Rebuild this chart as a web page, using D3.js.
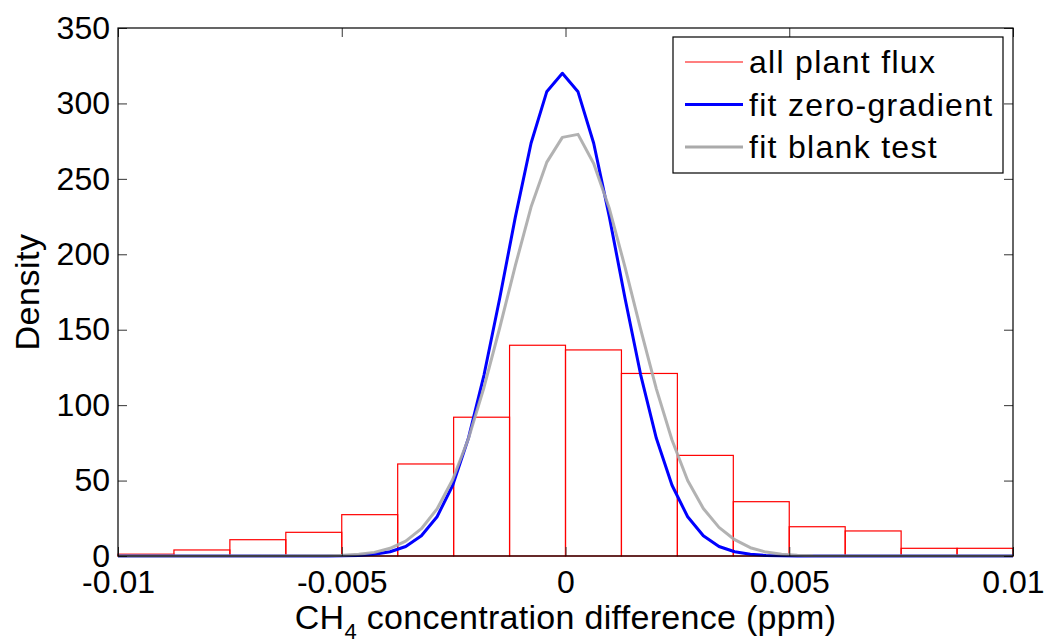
<!DOCTYPE html>
<html>

<head>
	<meta charset='utf-8'>
	<title>CH4 density</title>
	<script type='text/javascript' src='https://cdn.jsdelivr.net/npm/d3@7/dist/d3.min.js'></script>
	<style>
		body { margin: 0; background: #fff; }
		text { font-family: Arial, 'Liberation Sans', sans-serif; fill: #000; }
	</style>
</head>

<body>
	<svg width='1046' height='644'></svg>
	<script>
		// histogram: bin edges and density per bin
		const binEdges = [-0.01, -0.00875, -0.0075, -0.00625, -0.005, -0.00375, -0.0025, -0.00125, 0,
			0.00125, 0.0025, 0.00375, 0.005, 0.00625, 0.0075, 0.00875, 0.01]
		const histDensity = [1.2, 4.0, 10.8, 15.7, 27.4, 61, 92, 139.7, 136.6, 121, 66.7, 36, 19.4, 16.6, 5.1, 5.1]

		// fitted curves, sampled points
		const fitX = [-0.01, -0.00567, -0.00532, -0.00497, -0.00462, -0.00427, -0.00392, -0.00357, -0.00322,
			-0.00287, -0.00252, -0.00217, -0.00182, -0.00147, -0.00112, -0.00077, -0.00042, -0.00007,
			0.00028, 0.00063, 0.00098, 0.00133, 0.00168, 0.00203, 0.00238, 0.00273, 0.00308, 0.00343,
			0.00378, 0.00413, 0.00448, 0.00483, 0.00518, 0.00553, 0.01]
		const fitZeroGradient = [0, 0, 0, 0.1, 0.4, 1.1, 2.8, 6.3, 13.4, 26.0, 46.9, 78.0, 120.1, 170.9, 224.8,
			273.6, 307.7, 320, 307.7, 273.6, 224.8, 170.9, 120.1, 78.0, 46.9, 26.0, 13.4, 6.3, 2.8, 1.1,
			0.4, 0.1, 0, 0, 0]
		const fitBlankTest = [0, 0.1, 0.2, 0.5, 1.1, 2.4, 5.1, 9.9, 18.1, 31.2, 50.7, 77.7, 111.9, 151.3, 192.6,
			231.3, 260.9, 277.5, 279.5, 260.2, 230.3, 191.5, 150.2, 110.8, 76.9, 50.1, 31.5, 19.0, 10.8,
			5.5, 2.6, 1.2, 0.5, 0.2, 0]

		const xTicks = [-0.01, -0.005, 0, 0.005, 0.01]
		const xTickLabels = ['-0.01', '-0.005', '0', '0.005', '0.01']
		const yTicks = [0, 50, 100, 150, 200, 250, 300, 350]
		const legendLabels = ['all plant flux', 'fit zero-gradient', 'fit blank test']

		const margin = ({ top: 28, right: 33, bottom: 88, left: 118 })
		const svg = d3.select('svg')
		const width = +svg.attr('width')
		const height = +svg.attr('height')

		const x = d3.scaleLinear().domain([-0.01, 0.01]).range([margin.left, width - margin.right])
		const y = d3.scaleLinear().domain([0, 350]).range([height - margin.bottom, margin.top])

		// histogram bars
		const bins = histDensity.map((v, i) => ({ x0: binEdges[i], x1: binEdges[i + 1], v }))
		svg.append('g')
			.attr('fill', 'none')
			.attr('stroke', '#ff0000')
			.attr('stroke-width', 1.2)
			.selectAll('rect')
			.data(bins)
			.join('rect')
			.attr('x', d => x(d.x0))
			.attr('y', d => y(d.v))
			.attr('width', d => x(d.x1) - x(d.x0))
			.attr('height', d => y(0) - y(d.v))

		// fit curves
		const line = d3.line().x((d, i) => x(fitX[i])).y(d => y(d))
		svg.append('path').datum(fitZeroGradient)
			.attr('fill', 'none').attr('stroke', '#0000ff').attr('stroke-width', 3)
			.attr('stroke-linejoin', 'round')
			.attr('d', line)
		svg.append('path').datum(fitBlankTest)
			.attr('fill', 'none').attr('stroke', '#aaaaaa').attr('stroke-width', 3).attr('stroke-opacity', 0.9)
			.attr('stroke-linejoin', 'round')
			.attr('d', line)

		// axes, ticks pointing inside
		svg.append('g').attr('transform', `translate(0,${y(0)})`)
			.call(d3.axisBottom(x).tickValues(xTicks).tickFormat((d, i) => xTickLabels[i])
				.tickSizeInner(-9).tickSizeOuter(0).tickPadding(14))
		svg.append('g').attr('transform', `translate(0,${y(350)})`)
			.call(d3.axisTop(x).tickValues(xTicks).tickFormat('').tickSizeInner(-9).tickSizeOuter(0))
		svg.append('g').attr('transform', `translate(${x(-0.01)},0)`)
			.call(d3.axisLeft(y).tickValues(yTicks).tickSizeInner(-9).tickSizeOuter(0).tickPadding(8))
		svg.append('g').attr('transform', `translate(${x(0.01)},0)`)
			.call(d3.axisRight(y).tickValues(yTicks).tickFormat('').tickSizeInner(-9).tickSizeOuter(0))
		svg.selectAll('.domain').remove()
		svg.selectAll('.tick line').attr('stroke', '#333')
		svg.selectAll('.tick text').attr('font-size', 32).attr('font-family', 'Arial, Liberation Sans, sans-serif')

		// box
		svg.append('rect')
			.attr('x', x(-0.01)).attr('y', y(350))
			.attr('width', x(0.01) - x(-0.01)).attr('height', y(0) - y(350))
			.attr('fill', 'none').attr('stroke', '#000').attr('stroke-width', 1.2)

		// axis labels
		const xl = svg.append('text')
			.attr('x', (x(-0.01) + x(0.01)) / 2)
			.attr('y', 629)
			.attr('text-anchor', 'middle')
			.attr('font-size', 34)
			.attr('letter-spacing', 0.3)
		xl.append('tspan').text('CH')
		xl.append('tspan').attr('font-size', 22).attr('dy', 10).text('4')
		xl.append('tspan').attr('dy', -10).text(' concentration difference (ppm)')

		svg.append('text')
			.attr('transform', `translate(39,${(y(0) + y(350)) / 2}) rotate(-90)`)
			.attr('text-anchor', 'middle')
			.attr('font-size', 34)
			.attr('letter-spacing', 0.5)
			.text('Density')

		// legend
		const legend = svg.append('g')
		legend.append('rect')
			.attr('x', 673).attr('y', 37).attr('width', 330).attr('height', 136)
			.attr('fill', '#fff').attr('stroke', '#000').attr('stroke-width', 1.2)
		const legendStyle = [
			{ color: '#ff0000', w: 1.2 },
			{ color: '#0000ff', w: 3 },
			{ color: '#aaaaaa', w: 3 }
		]
		legendLabels.forEach((label, i) => {
			const ly = 62 + i * 42.5
			legend.append('line')
				.attr('x1', 685).attr('x2', 743).attr('y1', ly).attr('y2', ly)
				.attr('stroke', legendStyle[i].color).attr('stroke-width', legendStyle[i].w)
			legend.append('text')
				.attr('x', 749).attr('y', ly + 11)
				.attr('font-size', 32)
				.attr('letter-spacing', 1.3)
				.text(label)
		})
	</script>
</body>

</html>
